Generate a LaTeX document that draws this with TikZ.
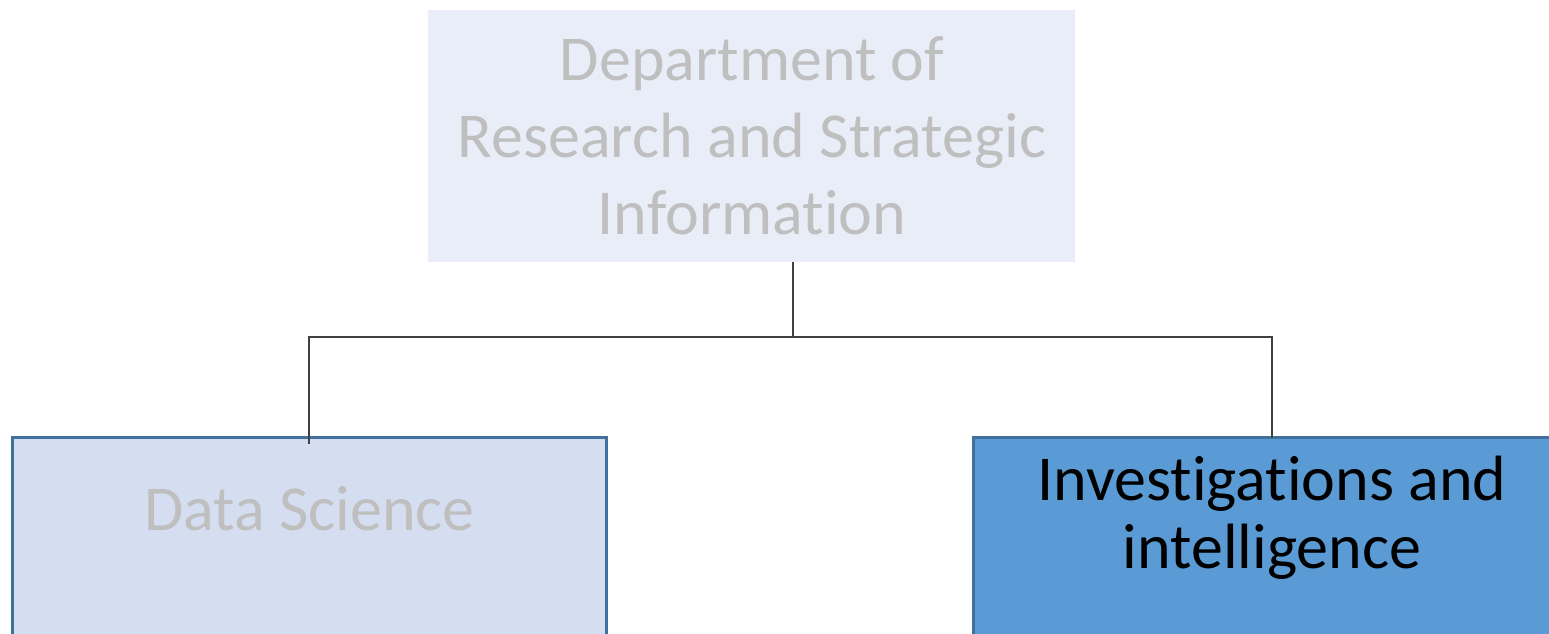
\documentclass[tikz,border=0pt]{standalone}
\usepackage{fontspec}
\setmainfont[Ligatures=NoCommon]{Carlito}
\definecolor{topfill}{HTML}{E9EDF7}
\definecolor{dsfill}{HTML}{D5DEF0}
\definecolor{iifill}{HTML}{5B9BD5}
\definecolor{boxline}{HTML}{41719C}
\definecolor{graytext}{HTML}{BFBFBF}
\definecolor{conn}{HTML}{404040}
\tikzset{
  box/.style={anchor=north west, inner sep=0pt, outer sep=0pt},
  bordered/.style={box, draw=boxline, line width=2.25pt},
  lbl/.style={anchor=base, inner sep=0pt, align=center},
  connector/.style={draw=conn, line width=1.5pt}
}
\begin{document}
\begin{tikzpicture}[x=0.75pt,y=-0.75pt]
\useasboundingbox (0,0) rectangle (1549,633);
\clip (0,0) rectangle (1549,633);
\node[box, fill=topfill, minimum width=485.25pt, minimum height=189pt] (dept) at (428,10) {};
\node[bordered, fill=dsfill, minimum width=445.5pt, minimum height=190pt] (ds) at (12,437.5) {};
\node[bordered, fill=iifill, minimum width=448pt, minimum height=190pt] (ii) at (973.5,437.5) {};
\coordinate (j) at (793,337);
\draw[connector] (j) -- (j |- dept.south);
\draw[connector] ([yshift=-4.5pt]ds.north) |- (j) -| (ii.north);
\node[lbl, text=graytext] (deptlbl) at (752,80) {\fontsize{48}{57.75}\selectfont\begin{tabular}[t]{@{}c@{}}Department of\\Research and Strategic\\Information\end{tabular}};
\node[lbl, text=graytext] (dslbl) at (309.5,530) {\fontsize{48}{57.75}\selectfont Data Science};
\node[lbl, text=black] (iilbl) at (1272,500) {\fontsize{48}{51}\selectfont\begin{tabular}[t]{@{}c@{}}Investigations and\\intelligence\end{tabular}};
\end{tikzpicture}
\end{document}
